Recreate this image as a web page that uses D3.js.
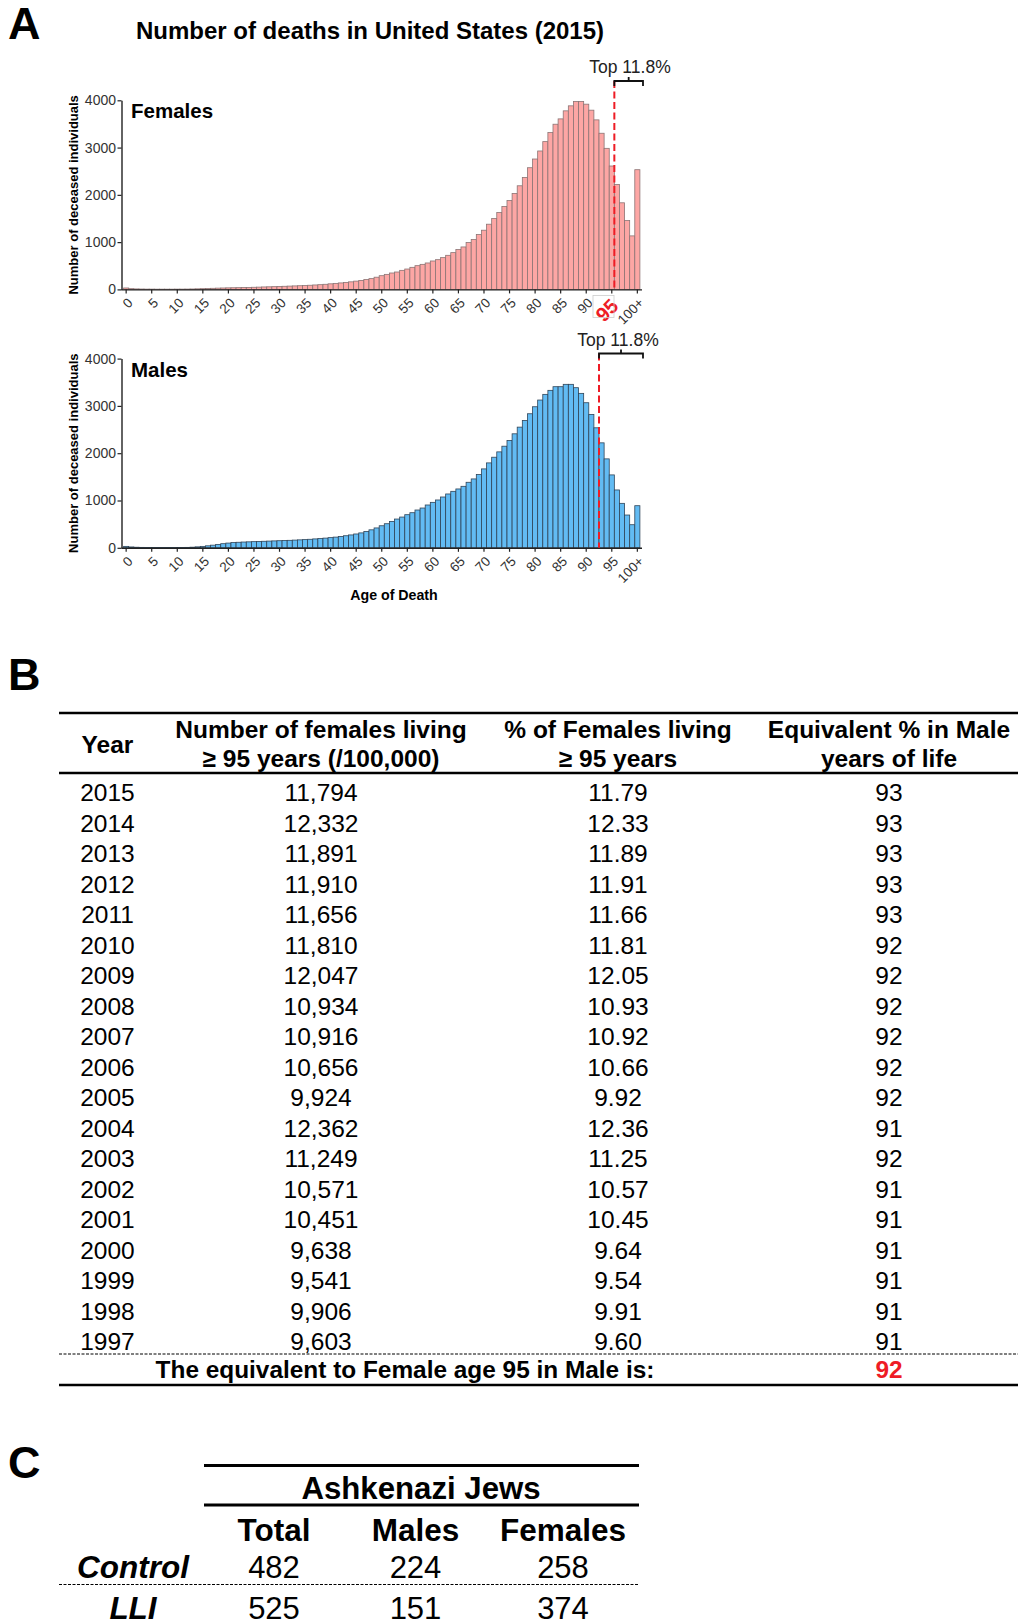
<!DOCTYPE html>
<html>
<head>
<meta charset="utf-8">
<script src="https://cdn.jsdelivr.net/npm/d3@7"></script>
<style>
  body { margin: 0; background: #fff; }
  svg { display: block; font-family: "Liberation Sans", Arial, Helvetica, sans-serif; }
</style>
</head>
<body>
<div id="chart-container"></div>
<script>
// ---- data ----
const ageLabels = d3.range(0, 101).map((a) => (a === 100 ? "100+" : String(a)));

// deaths per 100,000 by single year of age, US 2015
const femaleDeaths = [
  30, 15, 10, 8, 6, 6, 5, 5, 5, 5,
  6, 6, 7, 9, 12, 15, 19, 23, 27, 30,
  33, 35, 37, 40, 42, 45, 48, 52, 55, 58,
  62, 66, 70, 74, 78, 82, 88, 94, 100, 108,
  118, 127, 137, 148, 160, 175, 190, 208, 228, 258,
  290, 318, 347, 368, 403, 431, 467, 502, 530, 559,
  601, 629, 672, 721, 778, 842, 898, 990, 1054, 1160,
  1252, 1379, 1499, 1627, 1754, 1881, 2030, 2192, 2369, 2574,
  2758, 2928, 3126, 3317, 3494, 3607, 3777, 3883, 3975, 3975,
  3918, 3791, 3586, 3303, 2984, 2610, 2221, 1832, 1457, 1132,
  2532
];
const maleDeaths = [
  30, 18, 12, 9, 7, 6, 6, 5, 5, 5,
  6, 7, 9, 13, 20, 30, 42, 56, 72, 87,
  100, 110, 117, 122, 126, 130, 134, 138, 142, 146,
  150, 154, 158, 163, 168, 173, 180, 188, 196, 205,
  215, 226, 240, 255, 272, 292, 315, 345, 380, 420,
  466, 509, 558, 608, 650, 700, 742, 799, 841, 905,
  961, 1011, 1074, 1138, 1194, 1244, 1300, 1385, 1456, 1548,
  1668, 1795, 1915, 2028, 2148, 2269, 2410, 2551, 2693, 2834,
  2982, 3124, 3244, 3329, 3406, 3406, 3456, 3456, 3385, 3265,
  3067, 2820, 2537, 2219, 1880, 1541, 1223, 940, 693, 488,
  890
];
const yTicks = [0, 1000, 2000, 3000, 4000];
const xTickLabels = ["0", "5", "10", "15", "20", "25", "30", "35", "40", "45", "50",
  "55", "60", "65", "70", "75", "80", "85", "90", "95", "100+"];
const femaleCutoff = "95";
const maleCutoff = "92";
const topLabel = "Top 11.8%";

// table B
const tableHeaders = [
  ["Year"],
  ["Number of females living", "\u2265 95 years (/100,000)"],
  ["% of Females living", "\u2265 95 years"],
  ["Equivalent % in Male", "years of life"]
];
const years = ["2015", "2014", "2013", "2012", "2011", "2010", "2009", "2008", "2007", "2006",
  "2005", "2004", "2003", "2002", "2001", "2000", "1999", "1998", "1997"];
const femalesLiving = ["11,794", "12,332", "11,891", "11,910", "11,656", "11,810", "12,047", "10,934", "10,916", "10,656",
  "9,924", "12,362", "11,249", "10,571", "10,451", "9,638", "9,541", "9,906", "9,603"];
const femalesPct = ["11.79", "12.33", "11.89", "11.91", "11.66", "11.81", "12.05", "10.93", "10.92", "10.66",
  "9.92", "12.36", "11.25", "10.57", "10.45", "9.64", "9.54", "9.91", "9.60"];
const maleEquivalent = ["93", "93", "93", "93", "93", "92", "92", "92", "92", "92",
  "92", "91", "92", "91", "91", "91", "91", "91", "91"];
const summaryText = "The equivalent to Female age 95 in Male is:";
const summaryValue = "92";

// table C
const cohortTitle = "Ashkenazi Jews";
const cohortColumns = ["Total", "Males", "Females"];
const cohortGroups = ["Control", "LLI"];
const cohortCounts = [[482, 224, 258], [525, 151, 374]];

// ---- drawing ----
const width = 1018;
const height = 1620;
const red = "#ee1c25";

const svg = d3.select("#chart-container")
  .append("svg")
  .attr("width", width)
  .attr("height", height);

svg.append("rect").attr("width", width).attr("height", height).attr("fill", "#fff");

// panel letters
[["A", 39], ["B", 690], ["C", 1478]].forEach(([t, y]) => {
  svg.append("text").attr("x", 8).attr("y", y)
    .attr("font-size", 45).attr("font-weight", "bold").text(t);
});

svg.append("text")
  .attr("x", 370).attr("y", 39)
  .attr("text-anchor", "middle")
  .attr("font-size", 24).attr("font-weight", "bold")
  .text("Number of deaths in United States (2015)");

const x = d3.scaleBand()
  .domain(ageLabels)
  .range([123.6, 639.9])
  .paddingInner(0)
  .paddingOuter(0);

function drawHistogram(values, cfg) {
  const g = svg.append("g");
  const y = d3.scaleLinear().domain([0, 4000]).range([cfg.bottom, cfg.top]);

  // bars
  g.selectAll("rect.bar")
    .data(values)
    .enter()
    .append("rect")
    .attr("class", "bar")
    .attr("x", (d, i) => x(ageLabels[i]))
    .attr("y", (d) => y(d))
    .attr("width", x.bandwidth())
    .attr("height", (d) => cfg.bottom - y(d))
    .attr("fill", cfg.fill)
    .attr("stroke", cfg.stroke)
    .attr("stroke-width", 0.8);

  // y axis
  const yAxis = g.append("g")
    .attr("transform", "translate(121.5,0)")
    .call(d3.axisLeft(y).tickValues(yTicks).tickFormat(d3.format("d")).tickSize(4).tickSizeOuter(0).tickPadding(1.5));
  yAxis.select(".domain").attr("stroke", "#222").attr("stroke-width", 1.4);
  yAxis.selectAll(".tick line").attr("stroke", "#222").attr("stroke-width", 1.2);
  yAxis.selectAll("text").attr("font-size", 14).attr("fill", "#333").attr("font-family", null);

  // x axis
  const xAxis = g.append("g")
    .attr("transform", `translate(0,${cfg.bottom})`)
    .call(d3.axisBottom(x).tickValues(xTickLabels).tickSize(4).tickSizeOuter(0));
  xAxis.select(".domain").attr("d", "M121.5,0.5H642").attr("stroke", "#222").attr("stroke-width", 1.4);
  xAxis.selectAll(".tick line").attr("stroke", "#222").attr("stroke-width", 1.2);
  xAxis.selectAll("text")
    .attr("x", null).attr("y", null).attr("dy", "0.35em")
    .attr("transform", "translate(4,11) rotate(-45)")
    .style("text-anchor", "end")
    .attr("font-size", 13.5).attr("fill", "#333").attr("font-family", null);

  if (cfg.highlight) {
    const t = xAxis.selectAll(".tick").filter((d) => d === cfg.highlight);
    t.select("text")
      .attr("fill", red).attr("font-weight", "bold").attr("font-size", 20)
      .attr("transform", "translate(3,13) rotate(-45)");
    g.append("rect")
      .attr("x", 593).attr("y", cfg.bottom + 6)
      .attr("width", 21).attr("height", 22)
      .attr("fill", "none").attr("stroke", "#ccc").attr("stroke-width", 0.8);
  }

  // y axis title
  g.append("text")
    .attr("transform", `translate(78,${(cfg.top + cfg.bottom) / 2}) rotate(-90)`)
    .attr("text-anchor", "middle")
    .attr("font-size", 13).attr("font-weight", "bold")
    .text("Number of deceased individuals");

  // panel label
  g.append("text")
    .attr("x", 131).attr("y", cfg.top + 18)
    .attr("font-size", 20.5).attr("font-weight", "bold")
    .text(cfg.label);

  // cutoff line + bracket
  const cx = x(cfg.cutoff) + x.bandwidth();
  const right = 643;
  g.append("line")
    .attr("x1", cx).attr("x2", cx)
    .attr("y1", cfg.bracketY).attr("y2", cfg.bottom)
    .attr("stroke", red).attr("stroke-width", 2)
    .attr("stroke-dasharray", "7,3.5");
  const mid = (cx + right) / 2;
  g.append("path")
    .attr("d", `M${cx},${cfg.bracketY + 5}V${cfg.bracketY}H${right}V${cfg.bracketY + 5}M${mid},${cfg.bracketY}V${cfg.bracketY - 4}`)
    .attr("fill", "none").attr("stroke", "#111").attr("stroke-width", 1.8);
  g.append("text")
    .attr("x", cfg.topX).attr("y", cfg.bracketY - 8)
    .attr("text-anchor", "middle")
    .attr("font-size", 17.5).attr("fill", "#222")
    .text(topLabel);
}

drawHistogram(femaleDeaths, {
  top: 100.3, bottom: 289.4, fill: "#fda6a4", stroke: "#8c7474",
  label: "Females", cutoff: femaleCutoff, highlight: "95", bracketY: 81, topX: 630
});
drawHistogram(maleDeaths, {
  top: 358.6, bottom: 547.8, fill: "#62bbf3", stroke: "#2f4458",
  label: "Males", cutoff: maleCutoff, highlight: null, bracketY: 353.5, topX: 618
});

svg.append("text")
  .attr("x", 394).attr("y", 600)
  .attr("text-anchor", "middle")
  .attr("font-size", 14.2).attr("font-weight", "bold")
  .text("Age of Death");

// ---- table B ----
const colX = [107.5, 321, 618, 889];
const rowY = d3.scalePoint().domain(years).range([801, 1350]);

function hline(y, x1, x2, w, dash) {
  svg.append("line")
    .attr("x1", x1).attr("x2", x2).attr("y1", y).attr("y2", y)
    .attr("stroke", "#000").attr("stroke-width", w)
    .attr("stroke-dasharray", dash || null);
}

hline(713, 59, 1018, 2.5);
hline(773, 59, 1018, 2.5);
hline(1354, 59, 1018, 1, "3,1.5");
hline(1385, 59, 1018, 2.5);

tableHeaders.forEach((lines, i) => {
  const t = svg.append("text")
    .attr("x", colX[i])
    .attr("text-anchor", "middle")
    .attr("font-size", 24.5).attr("font-weight", "bold");
  if (lines.length === 1) {
    t.attr("y", 753).text(lines[0]);
  } else {
    t.append("tspan").attr("x", colX[i]).attr("y", 738).text(lines[0]);
    t.append("tspan").attr("x", colX[i]).attr("y", 767).text(lines[1]);
  }
});

const tableCols = [years, femalesLiving, femalesPct, maleEquivalent];
tableCols.forEach((col, ci) => {
  svg.append("g")
    .selectAll("text")
    .data(col)
    .enter()
    .append("text")
    .attr("x", colX[ci])
    .attr("y", (d, i) => rowY(years[i]))
    .attr("text-anchor", "middle")
    .attr("font-size", 24.5)
    .text((d) => d);
});

svg.append("text")
  .attr("x", 405).attr("y", 1378)
  .attr("text-anchor", "middle")
  .attr("font-size", 24.4).attr("font-weight", "bold")
  .text(summaryText);
svg.append("text")
  .attr("x", colX[3]).attr("y", 1378)
  .attr("text-anchor", "middle")
  .attr("font-size", 24.4).attr("font-weight", "bold").attr("fill", red)
  .text(summaryValue);

// ---- table C ----
const cColX = [274, 415.5, 563];
const groupY = [1578, 1619];

hline(1465.5, 204, 639, 3);
hline(1505, 204, 639, 3);
hline(1584.5, 59, 639, 1, "3,1.5");

svg.append("text")
  .attr("x", 421).attr("y", 1499)
  .attr("text-anchor", "middle")
  .attr("font-size", 31.2).attr("font-weight", "bold")
  .text(cohortTitle);

cohortColumns.forEach((c, i) => {
  svg.append("text")
    .attr("x", cColX[i]).attr("y", 1541)
    .attr("text-anchor", "middle")
    .attr("font-size", 31.5).attr("font-weight", "bold")
    .text(c);
});

cohortGroups.forEach((grp, r) => {
  svg.append("text")
    .attr("x", 133).attr("y", groupY[r])
    .attr("text-anchor", "middle")
    .attr("font-size", 31.5).attr("font-weight", "bold").attr("font-style", "italic")
    .text(grp);
  cohortCounts[r].forEach((v, i) => {
    svg.append("text")
      .attr("x", cColX[i]).attr("y", groupY[r])
      .attr("text-anchor", "middle")
      .attr("font-size", 31)
      .text(v);
  });
});
</script>
</body>
</html>
